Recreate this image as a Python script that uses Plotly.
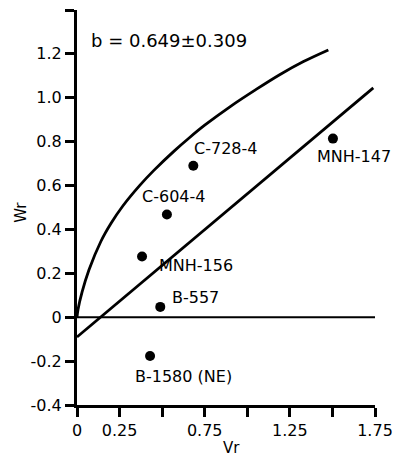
import plotly.graph_objects as go

# Data points (Vr, Wr)
names = ["C-728-4", "C-604-4", "MNH-156", "B-557", "B-1580 (NE)", "MNH-147"]
vr = [0.683, 0.528, 0.382, 0.489, 0.429, 1.503]
wr = [0.690, 0.468, 0.277, 0.047, -0.177, 0.814]

# label positions (left edge, centre) in data units
label_x = [0.675, 0.370, 0.470, 0.546, 0.329, 1.398]
label_y = [0.770, 0.550, 0.236, 0.091, -0.268, 0.732]

# limiting parabola
curve_x = [0, 0.006, 0.03, 0.07, 0.14, 0.20, 0.27, 0.37, 0.45, 0.57, 0.66,
           0.75, 0.90, 1.05, 1.19, 1.33, 1.476]
curve_y = [0, 0.035, 0.115, 0.215, 0.345, 0.428, 0.508, 0.602, 0.668, 0.757, 0.818,
           0.875, 0.960, 1.037, 1.105, 1.165, 1.218]

# regression line endpoints
reg_x = [0, 1.74]
reg_y = [-0.09, 1.045]

# zero line
zero_x = [0, 1.75]
zero_y = [0, 0]

annot_text = "b = 0.649±0.309"

x_tickvals = [0, 0.25, 0.5, 0.75, 1.0, 1.25, 1.5, 1.75]
x_ticktext = ["0", "0.25", "", "0.75", "", "1.25", "", "1.75"]
y_tickvals = [-0.4, -0.2, 0, 0.2, 0.4, 0.6, 0.8, 1.0, 1.2, 1.4]
y_ticktext = ["-0.4", "-0.2", "0", "0.2", "0.4", "0.6", "0.8", "1.0", "1.2", ""]

FONT = "DejaVu Sans"

fig = go.Figure()
fig.add_trace(go.Scatter(x=zero_x, y=zero_y, mode="lines",
                         line=dict(color="black", width=2), hoverinfo="skip"))
fig.add_trace(go.Scatter(x=curve_x, y=curve_y, mode="lines",
                         line=dict(color="black", width=2.8, shape="spline", smoothing=1.0),
                         hoverinfo="skip"))
fig.add_trace(go.Scatter(x=reg_x, y=reg_y, mode="lines",
                         line=dict(color="black", width=2.8), hoverinfo="skip"))
fig.add_trace(go.Scatter(x=vr, y=wr, mode="markers",
                         marker=dict(color="black", size=10), text=names))

for n, lx, ly in zip(names, label_x, label_y):
    fig.add_annotation(x=lx, y=ly, xref="x", yref="y", text=n, showarrow=False,
                       xanchor="left", yanchor="middle",
                       font=dict(family=FONT, size=16, color="black"))

fig.add_annotation(x=0.07, y=1.261, xref="x", yref="y", text=annot_text, showarrow=False,
                   xanchor="left", yanchor="middle",
                   font=dict(family=FONT, size=18, color="black"))

fig.add_annotation(x=0.52, y=-0.109, xref="paper", yref="paper", text="Vr", showarrow=False,
                   xanchor="center", yanchor="middle",
                   font=dict(family=FONT, size=15, color="black"))
fig.add_annotation(x=-0.188, y=0.489, xref="paper", yref="paper", text="Wr", showarrow=False,
                   textangle=-90, xanchor="center", yanchor="middle",
                   font=dict(family=FONT, size=15, color="black"))

axis_common = dict(showline=True, linewidth=3, linecolor="black", ticks="outside",
                   ticklen=9, tickwidth=2.5, tickcolor="black", showgrid=False,
                   zeroline=False, automargin=False,
                   tickfont=dict(family=FONT, size=16, color="black"))

fig.update_xaxes(range=[0, 1.75], tickvals=x_tickvals, ticktext=x_ticktext, **axis_common)
fig.update_yaxes(range=[-0.4, 1.4], tickvals=y_tickvals, ticktext=y_ticktext, **axis_common)

fig.update_layout(width=395, height=460, showlegend=False,
                  margin=dict(l=77, r=20, t=10, b=55),
                  plot_bgcolor="white", paper_bgcolor="white",
                  font=dict(family=FONT, color="black"))

fig.write_html("out.html", config={"displayModeBar": False},
               post_script="document.body.style.margin='0';document.body.style.overflow='hidden';")
